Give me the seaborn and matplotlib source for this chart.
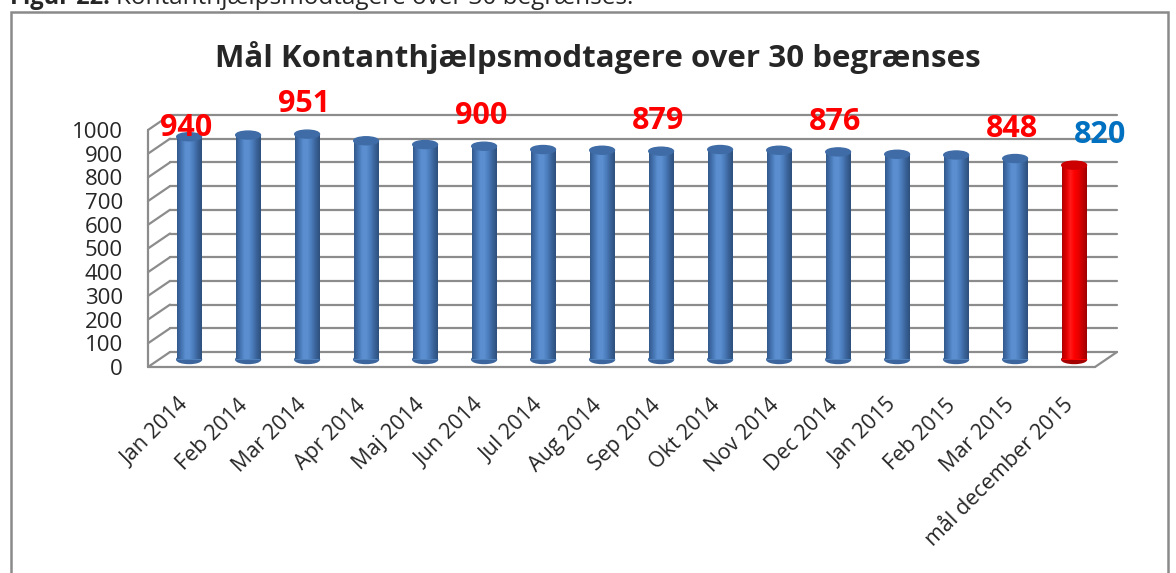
import numpy as np
import matplotlib
matplotlib.use("Agg")
import matplotlib.pyplot as plt
import seaborn as sns
from matplotlib.colors import LinearSegmentedColormap
from matplotlib.patches import Ellipse, Rectangle
from matplotlib.lines import Line2D

# data
months = ["Jan 2014", "Feb 2014", "Mar 2014", "Apr 2014", "Maj 2014", "Jun 2014",
          "Jul 2014", "Aug 2014", "Sep 2014", "Okt 2014", "Nov 2014", "Dec 2014",
          "Jan 2015", "Feb 2015", "Mar 2015", "mål december 2015"]
values = [940, 947, 951, 923, 907, 900, 886, 883, 879, 886, 883, 876, 866, 863, 848, 820]
is_goal = [False] * 15 + [True]
labelled = ["Jan 2014", "Mar 2014", "Jun 2014", "Sep 2014", "Dec 2014", "Mar 2015", "mål december 2015"]

sns.set_style("white")
plt.rcParams["font.family"] = ["Open Sans", "DejaVu Sans"]

fig = plt.figure(figsize=(11.76, 5.73), dpi=100)
W, H = 1176, 573
ax = fig.add_axes([148 / W, (H - 367) / H, (1095 - 148) / W, 237 / H])

df_colors = {m: ("#FF0000" if g else "#4F81BD") for m, g in zip(months, is_goal)}
bw = 0.42
sns.barplot(x=months, y=values, hue=months, palette=df_colors, legend=False,
            width=bw, ax=ax, saturation=1)

x0, x1 = -0.51, 15.54
ax.set_xlim(x0, x1)
ax.set_ylim(0, 1000)

# depth of the fake 3D box (in data units): back wall offset
dxd = 22 / 59.0
dyd = 15 / 0.237
grid_c = "#8C8C8C"

# back wall + side wall gridlines
for v in range(0, 1001, 100):
    ax.add_line(Line2D([x0 + dxd, x1 + dxd], [v + dyd, v + dyd], color=grid_c, lw=1.6,
                       clip_on=False, zorder=0.5))
    ax.add_line(Line2D([x0, x0 + dxd], [v, v + dyd], color=grid_c, lw=1.6,
                       clip_on=False, zorder=0.5))
ax.add_line(Line2D([x0, x0], [0, 1000], color=grid_c, lw=1.6, clip_on=False, zorder=0.5))
ax.add_line(Line2D([x0, x1], [0, 0], color=grid_c, lw=1.6, clip_on=False, zorder=0.5))
ax.add_line(Line2D([x1, x1 + dxd], [0, dyd], color=grid_c, lw=1.6, clip_on=False, zorder=0.5))

blue_cmap = LinearSegmentedColormap.from_list(
    "cylb", ["#33598C", "#4473B0", "#5A8ED0", "#5B8FD0", "#4A7BBA", "#3A6399", "#2E507D"])
red_cmap = LinearSegmentedColormap.from_list(
    "cylr", ["#B00000", "#E00000", "#FF1A1A", "#FF0000", "#E80000", "#C40000", "#A00000"])
grad = np.linspace(0, 1, 64).reshape(1, -1)
cap_h = 8 / 0.237

for p, g in zip(ax.patches, is_goal):
    p.set_x(p.get_x() + dxd / 2)
    p.set_y(dyd / 2)
    p.set_edgecolor("none")
    p.set_zorder(2)
    left, h = p.get_x(), p.get_height()
    cx = left + bw / 2
    top = dyd / 2 + h
    cmap = red_cmap if g else blue_cmap
    im = ax.imshow(grad, cmap=cmap, aspect="auto", extent=(left, left + bw, dyd / 2, top),
                   zorder=2.1)
    im.set_clip_path(p)
    ax.add_patch(Ellipse((cx, dyd / 2), bw, cap_h, color="#A50000" if g else "#3B659C",
                         zorder=1.9, clip_on=False))
    ax.add_patch(Ellipse((cx, top), bw, cap_h, color="#CC0000" if g else "#3F6CA6",
                         zorder=2.3, clip_on=False))

ax.set_xlim(x0, x1)
ax.set_ylim(0, 1000)

# value labels
for i, (m, v) in enumerate(zip(months, values)):
    if m not in labelled:
        continue
    goal = is_goal[i]
    off_px = 9 if i == 0 else 30
    dx_px = 26 if goal else -3
    ax.annotate(str(v), (i + dxd / 2, v + dyd / 2), xytext=(dx_px * 0.72, off_px * 0.72),
                textcoords="offset points", ha="center", va="center",
                fontsize=22, fontweight="bold", color="#0070C0" if goal else "#FF0000",
                annotation_clip=False, zorder=5)

ax.set_yticks(range(0, 1001, 100))
ax.tick_params(axis="y", length=0, pad=18, labelsize=16)
ax.tick_params(axis="x", length=0, pad=20, labelsize=15.5)
ax.set_xticks(np.arange(len(months)) + 0.0)
ax.set_xticklabels(months, rotation=45, ha="right", rotation_mode="anchor")
ax.set_xlabel("")
ax.set_ylabel("")
for s in ax.spines.values():
    s.set_visible(False)
ax.patch.set_alpha(0)

fig.text(598 / W, 1 - 57 / H, "Mål Kontanthjælpsmodtagere over 30 begrænses",
         ha="center", va="center", fontsize=22.5, fontweight="bold")

# outer chart frame and the clipped caption above it
fig.patches.append(Rectangle((10.5 / W, -0.05), (1157 / W), 1.05 - 12 / H,
                             transform=fig.transFigure, fill=False, edgecolor="#8A8A8A", lw=1.8))
cap_bold = fig.text(10 / W, 1 - 4 / H, "Figur 22.", ha="left", va="baseline",
                    fontsize=17, fontweight="bold")
fig.canvas.draw()
bb = cap_bold.get_window_extent(renderer=fig.canvas.get_renderer())
fig.text((bb.x1 + 6) / W, 1 - 4 / H, "Kontanthjælpsmodtagere over 30 begrænses.", ha="left",
         va="baseline", fontsize=17.5)

fig.savefig("out.png", dpi=100)
